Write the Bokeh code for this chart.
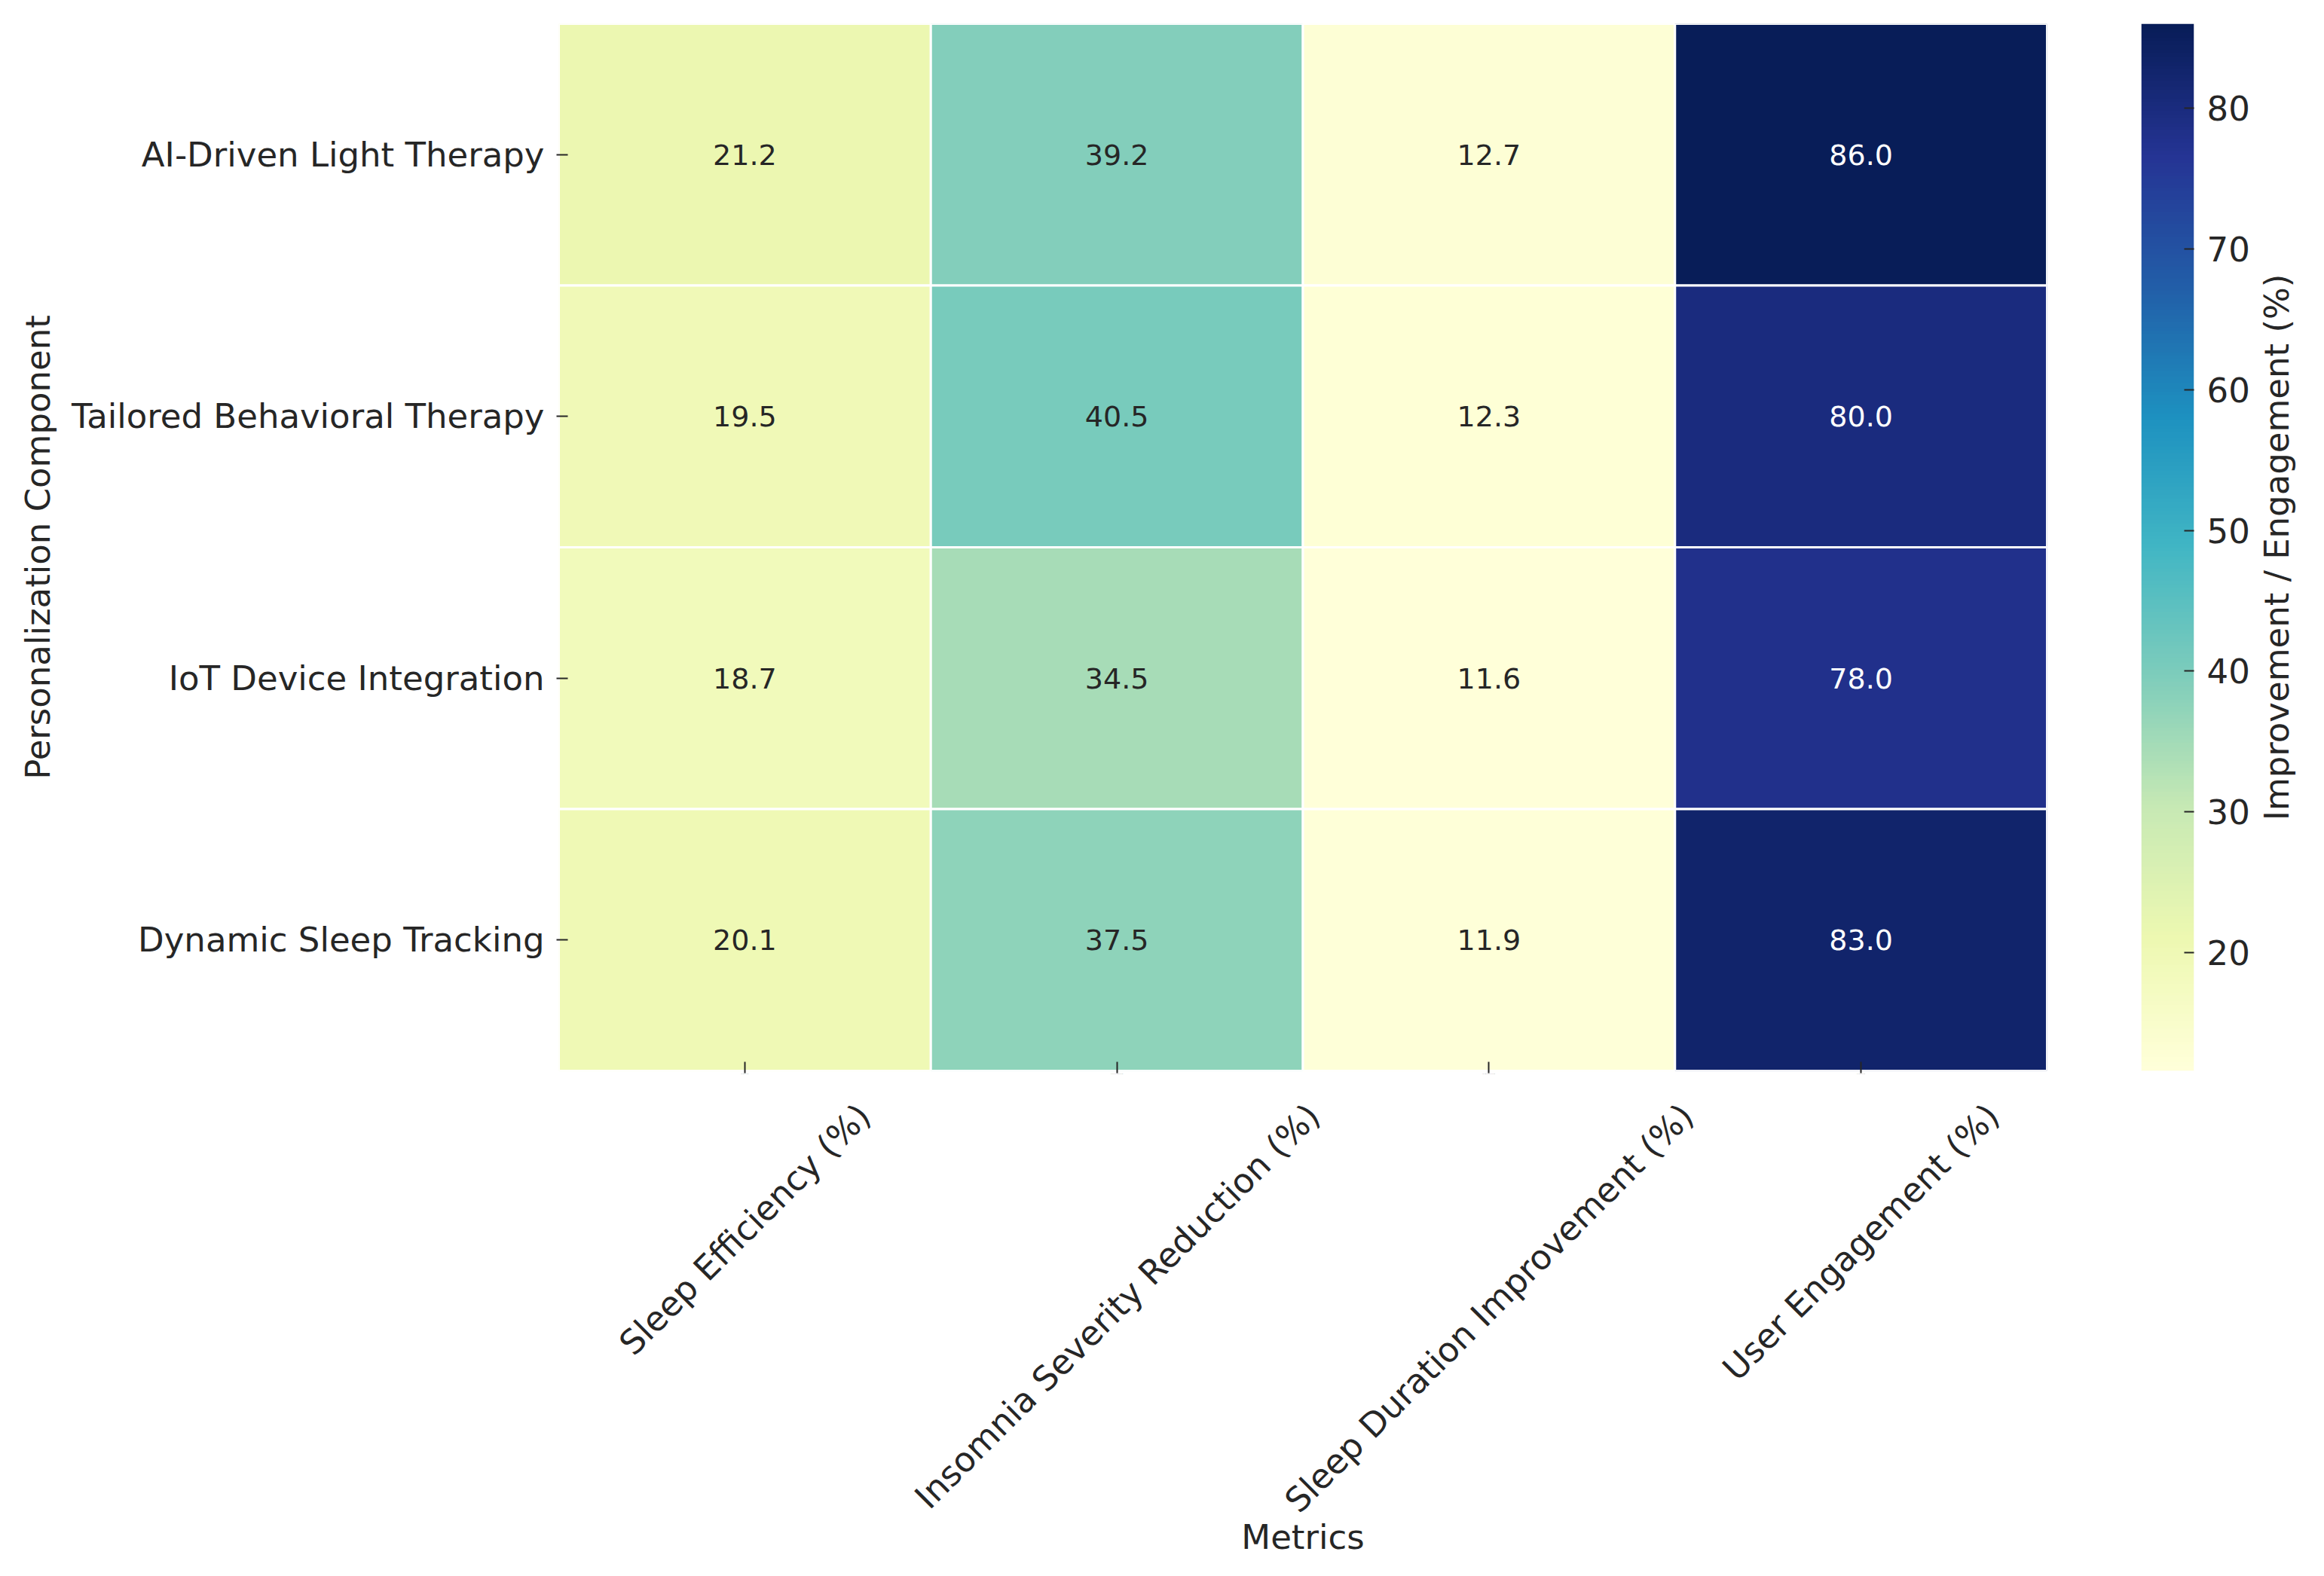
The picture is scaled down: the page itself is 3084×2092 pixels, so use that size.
import numpy as np
from math import pi
from bokeh.plotting import figure
from bokeh.models import (ColumnDataSource, LinearColorMapper,
                          FactorRange, Range1d, FixedTicker)
from bokeh.transform import transform
from bokeh.layouts import row, column
from bokeh.core.properties import value
from bokeh.embed import file_html
from bokeh.resources import INLINE

# ---------------- data ----------------
components = ["AI-Driven Light Therapy", "Tailored Behavioral Therapy",
              "IoT Device Integration", "Dynamic Sleep Tracking"]
metrics = ["Sleep Efficiency (%)", "Insomnia Severity Reduction (%)",
           "Sleep Duration Improvement (%)", "User Engagement (%)"]
sleep_efficiency = [21.2, 19.5, 18.7, 20.1]
insomnia_reduction = [39.2, 40.5, 34.5, 37.5]
duration_improvement = [12.7, 12.3, 11.6, 11.9]
user_engagement = [86.0, 80.0, 78.0, 83.0]
colorbar_ticks = [20, 30, 40, 50, 60, 70, 80]

columns = [sleep_efficiency, insomnia_reduction, duration_improvement, user_engagement]

# ---------------- style ----------------
FONT = "DejaVu Sans"
INK = "#262626"
TICK_FS = 45
ANNOT_FS = 38
FRAME_W, FRAME_H = 1975, 1390
LEFT, TOP, BOTTOM = 741, 31, 10

anchors = ['#ffffd9', '#edf8b1', '#c7e9b4', '#7fcdbb', '#41b6c4',
           '#1d91c0', '#225ea8', '#253494', '#081d58']
rgb = np.array([[int(c[i:i + 2], 16) for i in (1, 3, 5)] for c in anchors], dtype=float)
pos = np.linspace(0, 1, len(anchors))
t = np.linspace(0, 1, 256)
pal_rgb = np.stack([np.interp(t, pos, rgb[:, k]) for k in range(3)], axis=1)
palette = ["#%02x%02x%02x" % tuple(int(round(v)) for v in c) for c in pal_rgb]

all_vals = [v for col in columns for v in col]
lo, hi = min(all_vals), max(all_vals)
mapper = LinearColorMapper(palette=palette, low=lo, high=hi)


def lum(c):
    c = c / 255.0
    c = np.where(c <= 0.03928, c / 12.92, ((c + 0.055) / 1.055) ** 2.4)
    return 0.2126 * c[0] + 0.7152 * c[1] + 0.0722 * c[2]


xs, ys, vals, labels, tcolors = [], [], [], [], []
for m, col in zip(metrics, columns):
    for comp, v in zip(components, col):
        xs.append(m)
        ys.append(comp)
        vals.append(v)
        labels.append(f"{v:.1f}")
        idx = int(round((v - lo) / (hi - lo) * 255))
        tcolors.append(INK if lum(pal_rgb[idx]) > 0.408 else "white")

src = ColumnDataSource(dict(metric=xs, component=ys, value=vals, label=labels, tcolor=tcolors))

# DejaVu Sans advance widths (units per 2048 em) to centre the rotated labels on their ticks
W = {' ': 651, '(': 799, ')': 799, '%': 1946, '.': 651, '-': 739, '/': 690,
     'A': 1401, 'B': 1405, 'C': 1430, 'D': 1577, 'E': 1294, 'F': 1178, 'G': 1587,
     'H': 1540, 'I': 604, 'L': 1141, 'M': 1767, 'R': 1423, 'S': 1300, 'T': 1251,
     'U': 1499, 'a': 1255, 'b': 1300, 'c': 1126, 'd': 1300, 'e': 1260, 'f': 721,
     'g': 1300, 'h': 1298, 'i': 569, 'k': 1186, 'l': 569, 'm': 1995, 'n': 1298,
     'o': 1253, 'p': 1300, 'r': 842, 's': 1067, 't': 803, 'u': 1298, 'v': 1212,
     'w': 1675, 'x': 1212, 'y': 1212, 'z': 1075}


def text_width(s, size):
    return sum(W.get(ch, 1250) for ch in s) / 2048.0 * size


def style_text_axis(ax):
    ax.axis_line_color = None
    ax.minor_tick_line_color = None
    ax.major_label_text_font = FONT
    ax.major_label_text_color = INK
    ax.major_label_text_font_size = f"{TICK_FS}px"
    ax.axis_label_text_font = FONT
    ax.axis_label_text_color = INK
    ax.axis_label_text_font_size = f"{TICK_FS}px"
    ax.axis_label_text_font_style = "normal"


def bare(fig):
    fig.grid.grid_line_color = None
    fig.outline_line_color = None


# ---------------- main heatmap ----------------
p = figure(x_range=FactorRange(*metrics), y_range=FactorRange(*components[::-1]),
           frame_width=FRAME_W, frame_height=FRAME_H,
           min_border_left=LEFT, min_border_right=125, min_border_top=TOP, min_border_bottom=BOTTOM,
           output_backend="svg", toolbar_location=None, tools="")
bare(p)
p.rect(x="metric", y="component", width=1, height=1, source=src,
       fill_color=transform("value", mapper), line_color="white", line_width=3)
p.text(x="metric", y="component", text="label", source=src, text_color="tcolor",
       text_align="center", text_baseline="middle", text_font=value(FONT),
       text_font_size=f"{ANNOT_FS}px")

xax = p.xaxis[0]
yax = p.yaxis[0]
for ax in (xax, yax):
    style_text_axis(ax)
    ax.major_tick_in = 12
    ax.major_tick_out = 3
    ax.major_tick_line_color = INK
    ax.major_tick_line_width = 2

yax.axis_label = "Personalization Component"
yax.major_label_standoff = 16
yax.axis_label_standoff = 15

# category ticks only; names are drawn below, centred on the ticks like the original
xax.major_label_overrides = {m: "" for m in metrics}
xax.major_label_text_font_size = "1px"
xax.major_label_standoff = 0

# ---------------- rotated metric names + "Metrics" ----------------
cell_px = FRAME_W / len(metrics)
label_ticks = [round(i + 0.5 + 0.3536 * text_width(m, TICK_FS) / cell_px, 4)
               for i, m in enumerate(metrics)]
pl = figure(x_range=Range1d(0, len(metrics)), y_range=Range1d(0, 1),
            frame_width=FRAME_W, frame_height=1,
            min_border_left=LEFT, min_border_right=0, min_border_top=0, min_border_bottom=560,
            y_axis_location=None, output_backend="svg", toolbar_location=None, tools="")
bare(pl)
pl.scatter(x=[0.5], y=[0.5], size=0, alpha=0)
lab_axis = pl.xaxis[0]
style_text_axis(lab_axis)
lab_axis.ticker = FixedTicker(ticks=label_ticks)
lab_axis.major_label_overrides = {tk: m for tk, m in zip(label_ticks, metrics)}
lab_axis.major_label_orientation = pi / 4
lab_axis.major_tick_line_color = None
lab_axis.major_tick_in = 0
lab_axis.major_tick_out = 0
lab_axis.major_label_standoff = 41
lab_axis.axis_label = "Metrics"
lab_axis.axis_label_standoff = -26

# ---------------- colour bar ----------------
p2 = figure(x_range=Range1d(0, 1), y_range=Range1d(lo, hi),
            frame_width=70, frame_height=FRAME_H,
            min_border_left=0, min_border_right=80, min_border_top=TOP, min_border_bottom=BOTTOM,
            x_axis_location=None, y_axis_location="right",
            output_backend="svg", toolbar_location=None, tools="")
bare(p2)
grad = np.linspace(lo, hi, 600).reshape(-1, 1)
p2.image(image=[grad], x=0, y=lo, dw=1, dh=hi - lo, color_mapper=mapper)
ay = p2.yaxis[0]
style_text_axis(ay)
ay.ticker = FixedTicker(ticks=colorbar_ticks)
ay.major_tick_in = 13
ay.major_tick_out = 0
ay.major_tick_line_color = INK
ay.major_tick_line_width = 2
ay.major_label_standoff = 17

# colour bar title: a bare left axis so it reads bottom-to-top like the original
p3 = figure(x_range=Range1d(0, 1), y_range=Range1d(0, 1),
            frame_width=1, frame_height=FRAME_H,
            min_border_left=60, min_border_right=0, min_border_top=TOP, min_border_bottom=BOTTOM,
            x_axis_location=None, y_axis_location="left",
            output_backend="svg", toolbar_location=None, tools="")
bare(p3)
p3.scatter(x=[0.5], y=[0.5], size=0, alpha=0)
a3 = p3.yaxis[0]
style_text_axis(a3)
a3.ticker = FixedTicker(ticks=[])
a3.major_tick_line_color = None
a3.major_tick_in = 0
a3.major_tick_out = 0
a3.major_label_standoff = 0
a3.axis_label = "Improvement / Engagement (%)"
a3.axis_label_standoff = 5

layout = column(row(p, p2, p3), pl)
open("out.html", "w").write(file_html(layout, INLINE))
